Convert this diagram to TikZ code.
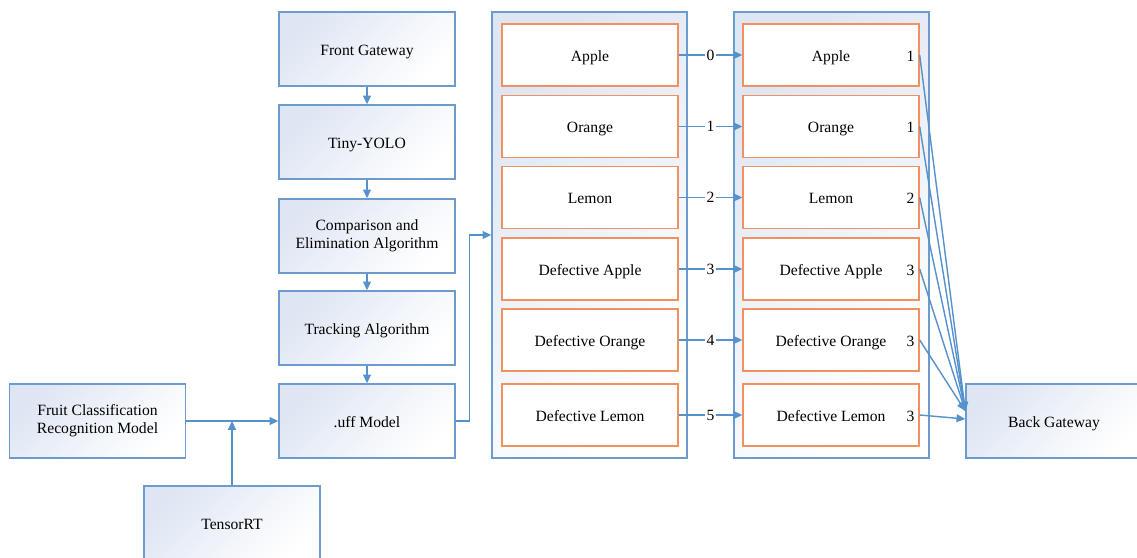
\documentclass[tikz,border=0pt]{standalone}
\usepackage{fontspec}
\setmainfont{Liberation Serif}
\usetikzlibrary{arrows.meta,positioning}
\definecolor{boxline}{RGB}{108,155,205}
\definecolor{linkblue}{RGB}{85,145,205}
\definecolor{fruitline}{RGB}{240,145,95}
\definecolor{boxtint}{RGB}{222,230,243}
\newcommand{\diagfont}{\fontsize{8.9}{10.2}\selectfont}
\tikzset{
  stage/.style={draw=boxline, line width=0.8pt, top color=boxtint, bottom color=white, shading angle=45,
    minimum width=3.52cm, minimum height=1.48cm, align=center, text height=0.85em, text depth=0.13em, font=\diagfont},
  column/.style={draw=boxline, line width=0.8pt, top color=boxtint, bottom color=white, shading angle=45,
    minimum width=3.9cm, minimum height=8.92cm},
  fruitbox/.style={draw=fruitline, fill=white, line width=0.8pt, minimum width=3.52cm, minimum height=1.24cm,
    text height=0.85em, text depth=0.13em, font=\diagfont},
  link/.style={draw=linkblue, line width=0.8pt, -{Triangle[length=5pt,width=4.5pt]}},
  count/.style={font=\diagfont, inner sep=1pt},
  tally/.style={font=\diagfont, anchor=east, inner sep=2.8pt, text height=0.85em, text depth=0.13em},
}
\begin{document}
\begin{tikzpicture}[x=0.02cm,y=-0.02cm]
    \useasboundingbox (0,0) rectangle (1137,558);
    \node[stage] (fg) at (367,49) {Front Gateway};
    \node[stage] (yolo) at (367,142) {Tiny-YOLO};
    \node[stage, text height=, text depth=] (cea) at (367,236) {Comparison and\\Elimination Algorithm};
    \node[stage] (track) at (367,328) {Tracking Algorithm};
    \node[stage] (uff) at (367,421) {.uff Model};
    \node[stage, text height=, text depth=] (fcr) at (97.5,421) {Fruit Classification\\Recognition Model};
    \node[stage] (trt) at (232,523) {TensorRT};
    \node[stage] (bg) at (1054,421) {Back Gateway};

    \node[column] (lcol) at (589.5,235) {};
    \node[column] (rcol) at (831.5,235) {};

    \node[fruitbox] (la) at (590,55) {Apple};
    \node[fruitbox] (lo) at (590,126.5) {Orange};
    \node[fruitbox] (ll) at (590,197.5) {Lemon};
    \node[fruitbox] (lda) at (590,269) {Defective Apple};
    \node[fruitbox] (ldo) at (590,340) {Defective Orange};
    \node[fruitbox] (ldl) at (590,415) {Defective Lemon};

    \node[fruitbox] (ra) at (831,55) {Apple};
    \node[fruitbox] (ro) at (831,126.5) {Orange};
    \node[fruitbox] (rl) at (831,197.5) {Lemon};
    \node[fruitbox] (rda) at (831,269) {Defective Apple};
    \node[fruitbox] (rdo) at (831,340) {Defective Orange};
    \node[fruitbox] (rdl) at (831,415) {Defective Lemon};

    \node[tally] (na) at (ra.east) {1};
    \node[tally] (no) at (ro.east) {1};
    \node[tally] (nl) at (rl.east) {2};
    \node[tally] (nda) at (rda.east) {3};
    \node[tally] (ndo) at (rdo.east) {3};
    \node[tally] (ndl) at (rdl.east) {3};

    \draw[link] (fg) -- (yolo);
    \draw[link] (yolo) -- (cea);
    \draw[link] (cea) -- (track);
    \draw[link] (track) -- (uff);
    \draw[link] (fcr) -- (uff);
    \draw[link] (trt.north) -- (trt.north |- fcr.east);
    \draw[link] (uff.east) -- ++(14,0) |- (lcol.west);

    \draw[link] (la.east) -- node[count, fill=white] (k0) {0} (ra.west);
    \draw[link] (lo.east) -- node[count, fill=white] (k1) {1} (ro.west);
    \draw[link] (ll.east) -- node[count, fill=white] (k2) {2} (rl.west);
    \draw[link] (lda.east) -- node[count, fill=white] (k3) {3} (rda.west);
    \draw[link] (ldo.east) -- node[count, fill=white] (k4) {4} (rdo.west);
    \draw[link] (ldl.east) -- node[count, fill=white] (k5) {5} (rdl.west);

    \coordinate (bgtip) at ([yshift=0.2cm]bg.west);
    \coordinate (bglow) at ([yshift=0.04cm]bg.west);
    \draw[link] (ra.east) -- (bgtip);
    \draw[link] (ro.east) -- (bgtip);
    \draw[link] (rl.east) -- (bgtip);
    \draw[link] (rda.east) -- (bgtip);
    \draw[link] (rdo.east) -- (bgtip);
    \draw[link] (rdl.east) -- (bglow);
\end{tikzpicture}
\end{document}
